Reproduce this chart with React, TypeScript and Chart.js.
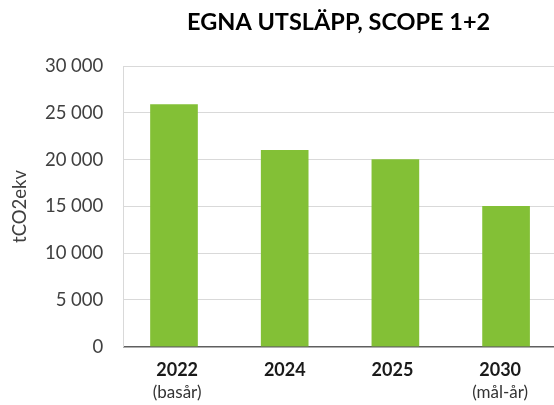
import { useEffect, useRef } from 'react';
import { Chart, registerables } from 'chart.js';

Chart.register(...registerables);

const TITLE = 'EGNA UTSLÄPP, SCOPE 1+2';
const Y_TITLE = 'tCO2ekv';
const categories = ['2022', '2024', '2025', '2030'];
const subLabels = ['(basår)', '', '', '(mål-år)'];
const values = [25900, 21000, 20000, 15000];
const yMin = 0;
const yMax = 30000;
const yStep = 5000;

const FONT = 'Lato, "Open Sans", sans-serif';
const BAR_COLOR = '#83c036';

const fmt = (v: number) => String(v).replace(/\B(?=(\d{3})+(?!\d))/g, ' ');

export default function App() {
  const ref = useRef<HTMLCanvasElement>(null);

  useEffect(() => {
    document.body.style.margin = '0';
    const chart = new Chart(ref.current as HTMLCanvasElement, {
      type: 'bar',
      data: {
        datasets: [
          {
            data: categories.map((_, i) => ({ x: i, y: values[i] })) as any,
            backgroundColor: BAR_COLOR,
            barThickness: 47,
            xAxisID: 'x',
            yAxisID: 'y',
          },
        ],
      },
      options: {
        animation: false,
        responsive: false,
        maintainAspectRatio: false,
        layout: { padding: 0 },
        plugins: {
          legend: { display: false },
          tooltip: { enabled: false },
          title: {
            display: true,
            text: TITLE,
            fullSize: false,
            color: '#000000',
            font: { family: FONT, size: 23.5, weight: 'bold' },
            padding: { top: 8, bottom: 30 },
          },
        },
        scales: {
          x: {
            type: 'linear',
            position: 'bottom',
            weight: 0,
            offset: false,
            min: -0.458,
            max: 3.433,
            ticks: { display: false },
            grid: { display: false, drawTicks: false, offset: false },
            border: { display: true, color: '#5f5f5f', width: 1.5 },
            afterFit: (s: any) => {
              s.height = 1;
            },
          },
          xl: {
            type: 'category',
            labels: categories,
            position: 'bottom',
            weight: 1,
            offset: true,
            grid: { display: false, drawTicks: false },
            border: { display: false },
            ticks: {
              color: '#1a1a1a',
              font: { family: FONT, size: 18, weight: 'bold' },
              padding: 12,
              maxRotation: 0,
              autoSkip: false,
            },
            afterFit: (s: any) => {
              s.height = 31;
            },
          },
          xs: {
            type: 'category',
            labels: subLabels,
            position: 'bottom',
            weight: 2,
            offset: true,
            grid: { display: false, drawTicks: false },
            border: { display: false },
            ticks: {
              color: '#333333',
              font: { family: FONT, size: 17 },
              padding: 4,
              maxRotation: 0,
              autoSkip: false,
            },
            afterFit: (s: any) => {
              s.height = 405 - 346.7 - 1 - 31;
            },
          },
          y: {
            type: 'linear',
            min: yMin,
            max: yMax,
            ticks: {
              stepSize: yStep,
              padding: 20,
              color: '#404040',
              font: { family: FONT, size: 18.5 },
              callback: (v: any) => fmt(Number(v)),
            },
            grid: {
              color: (ctx: any) => (ctx.tick && ctx.tick.value === 0 ? 'rgba(0,0,0,0)' : '#d9d9d9'),
              lineWidth: 1,
              drawTicks: false,
            },
            border: { display: true, color: '#d9d9d9', width: 1 },
            title: {
              display: true,
              text: Y_TITLE,
              color: '#404040',
              font: { family: FONT, size: 18.5 },
              padding: { top: 9, bottom: 0 },
            },
            afterFit: (s: any) => {
              s.width = 123.3;
            },
          },
        },
      } as any,
    });
    return () => chart.destroy();
  }, []);

  return (
    <div style={{ width: 554, height: 405 }}>
      <canvas ref={ref} width={554} height={405} style={{ display: 'block' }} />
    </div>
  );
}
